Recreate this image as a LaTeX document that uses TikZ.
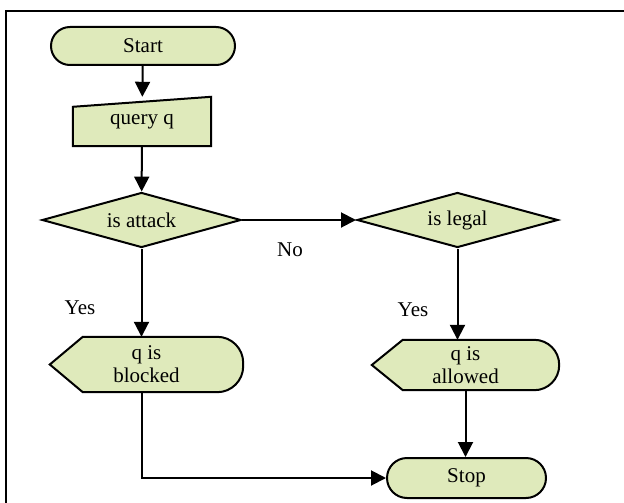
\documentclass[tikz,border=0pt]{standalone}
\usepackage{fontspec}
\setmainfont{Liberation Serif}
\usetikzlibrary{shapes.geometric, shapes.misc, arrows.meta, backgrounds}
\definecolor{flowfill}{RGB}{223,234,187}

\tikzset{
    terminal/.style = {rounded rectangle, draw, fill = flowfill, line width = 2pt, inner sep = 0pt},
    decision/.style = {diamond, aspect = 3.6, draw, fill = flowfill, line width = 2pt, inner sep = 0pt},
    plain/.style = {inner sep = 0pt, align = center},
    outline/.style = {draw, fill = flowfill, line width = 2pt},
    flow/.style = {-{Triangle[length = 15pt, width = 15pt]}, line width = 2pt},
}

\begin{document}
\begin{tikzpicture}[x = 1pt, y = -1pt, font = \fontsize{21}{23}\selectfont]
    \useasboundingbox (0, 0) rectangle (624, 503);
    \draw [line width = 2pt] (6, 503) -- (6, 11) -- (624, 11); % frame

    \node [terminal, minimum width = 184pt, minimum height = 38pt] (start) at (143, 46) {Start};
    \node [plain, minimum width = 138pt, minimum height = 49pt] (query) at (142, 121.5) {query q};
    \node [decision, minimum width = 199pt, minimum height = 55pt] (attack) at (141.5, 220) {is attack};
    \node [decision, minimum width = 201pt, minimum height = 55pt] (legal) at (457.5, 220) {is legal};
    \node [plain, minimum width = 193pt, minimum height = 55pt] (blocked) at (146.5, 364.5) {q is\\blocked};
    \node [plain, minimum width = 187pt, minimum height = 50pt] (allowed) at (465.5, 365) {q is\\allowed};
    \node [terminal, minimum width = 159pt, minimum height = 40pt] (stop) at (466.5, 478) {Stop};

    \node (no) at (290, 250) {No};
    \node (yesleft) at (80, 308) {Yes};
    \node (yesright) at (413, 310) {Yes};

    % manual input and display outlines
    \begin{scope}[on background layer]
        \path [outline] (query.south west) -- (query.south east) -- (query.north east) -- ([yshift = -10pt]query.north west) -- cycle;
        \path [outline] (blocked.west) -- ([xshift = 33pt]blocked.north west) [rounded corners = 26pt] -- (blocked.north east) -- (blocked.south east) [sharp corners] -- ([xshift = 33pt]blocked.south west) -- cycle;
        \path [outline] (allowed.west) -- ([xshift = 31pt]allowed.north west) [rounded corners = 25pt] -- (allowed.north east) -- (allowed.south east) [sharp corners] -- ([xshift = 31pt]allowed.south west) -- cycle;
    \end{scope}

    \draw [flow] (start) -- (query);
    \draw [flow] (query) -- (attack);
    \draw [flow] (attack) -- (legal);
    \draw [flow] (attack.south) -- (attack.south |- blocked.north);
    \draw [flow] (legal.south) -- (legal.south |- allowed.north);
    \draw [flow] (allowed.south) -- (allowed.south |- stop.north);
    \draw [flow] (attack.south |- blocked.south) |- (stop.west);
\end{tikzpicture}
\end{document}
